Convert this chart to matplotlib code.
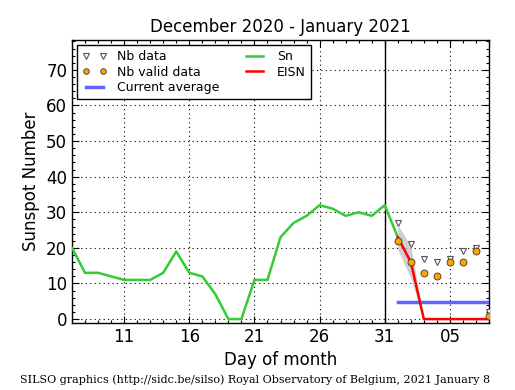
import matplotlib
matplotlib.use("Agg")
import matplotlib.pyplot as plt
from matplotlib.ticker import MultipleLocator, FixedLocator

# Data
sn_days = list(range(7, 33))
sn_values = [20, 13, 13, 12, 11, 11, 11, 13, 19, 13, 12, 7, 0, 0, 11, 11,
             23, 27, 29, 32, 31, 29, 30, 29, 32, 23]
eisn_days = [32, 33, 34, 35, 36, 37, 38, 39]
eisn_values = [23, 16, 0, 0, 0, 0, 0, 0]
eisn_sigma = [3.5, 4.5, 0, 0, 0, 0, 0, 0]
nb_days = [32, 33, 34, 35, 36, 37, 38, 39]
nb_data = [27, 21, 17, 16, 17, 19, 20, 2]
nb_valid = [22, 16, 13, 12, 16, 16, 19, 1]
avg_days = [32, 39]
avg_value = [4.7, 4.7]
xtick_pos = [11, 16, 21, 26, 31, 36]
xtick_labels = ["11", "16", "21", "26", "31", "05"]
title = "December 2020 - January 2021"
footer = "SILSO graphics (http://sidc.be/silso) Royal Observatory of Belgium, 2021 January 8"

fig = plt.figure(figsize=(5.15, 3.9), dpi=100)
ax = fig.add_axes([72/515, 1-323/390, (489-72)/515, (323-40)/390])

lo = [v - s for v, s in zip(eisn_values, eisn_sigma)]
hi = [v + s for v, s in zip(eisn_values, eisn_sigma)]
ax.fill_between(eisn_days, lo, hi, color="#bbbbbb", alpha=0.7, lw=0, zorder=2)

ax.plot(nb_days, nb_data, ls="none", marker="v", ms=5, mfc="white",
        mec="#555555", mew=0.8, label="Nb data", zorder=5)
ax.plot(nb_days, nb_valid, ls="none", marker="o", ms=5, mfc="#ffa500",
        mec="#333333", mew=0.6, label="Nb valid data", zorder=5)
ax.plot(avg_days, avg_value, color="#6464ff", lw=2.5, label="Current average", zorder=3)
ax.plot(sn_days, sn_values, color="#33cc33", lw=1.8, label="Sn", zorder=4)
ax.plot(eisn_days, eisn_values, color="red", lw=1.8, label="EISN", zorder=4)

ax.axvline(31, color="black", lw=1, zorder=3)

ax.set_xlim(7, 39)
ax.set_ylim(-1.1, 78.4)
ax.xaxis.set_major_locator(FixedLocator(xtick_pos))
ax.set_xticklabels(xtick_labels)
ax.xaxis.set_minor_locator(MultipleLocator(1))
ax.yaxis.set_major_locator(MultipleLocator(10))
ax.yaxis.set_minor_locator(MultipleLocator(2))
ax.tick_params(which="both", direction="in", top=True, right=True, labelsize=12)
ax.tick_params(which="major", length=5, width=0.8)
ax.tick_params(which="minor", length=2.5, width=0.8)
ax.grid(True, which="major", color="black", ls=(0, (1, 3)), lw=0.8)
for s in ax.spines.values():
    s.set_linewidth(1.0)

ax.set_xlabel("Day of month", fontsize=12)
ax.set_ylabel("Sunspot Number", fontsize=12)
ax.set_title(title, fontsize=12)

leg = ax.legend(loc="upper left", ncol=2, numpoints=2, fontsize=9,
                frameon=True, fancybox=False, edgecolor="black",
                framealpha=1, borderaxespad=0.4, columnspacing=1.8,
                handlelength=2.0, handletextpad=0.8, labelspacing=0.2,
                borderpad=0.4, markerscale=0.8)
leg.get_frame().set_linewidth(1.0)

fig.text(0.495, 1-380/390, footer, ha="center", va="center",
         fontsize=8, family="DejaVu Serif")

fig.savefig("out.png", dpi=100)
